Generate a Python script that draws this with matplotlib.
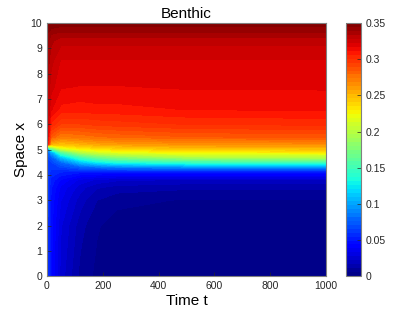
import numpy as np
import matplotlib
matplotlib.use("Agg")
import matplotlib.pyplot as plt

plt.rcParams['font.family'] = ['Liberation Sans', 'DejaVu Sans']

# ---- data ----
times = [0, 15, 50, 120, 180, 250, 500, 1000]
space = [0, 2, 3, 3.5, 3.8, 4.1, 4.3, 4.5, 4.7, 4.9, 5.05, 5.2, 5.5, 6.0, 6.6, 7.5, 8.5, 9.3, 9.6, 10]

# benthic density, one row per space level, one column per time
benthic = [
    [0.065, 0.045, 0.025, 0.009, 0.004, 0.002, 0.001, 0.001],
    [0.065, 0.046, 0.028, 0.013, 0.006, 0.003, 0.002, 0.002],
    [0.065, 0.048, 0.033, 0.019, 0.011, 0.007, 0.005, 0.005],
    [0.065, 0.050, 0.037, 0.024, 0.017, 0.014, 0.012, 0.012],
    [0.065, 0.053, 0.043, 0.031, 0.026, 0.023, 0.021, 0.021],
    [0.065, 0.058, 0.054, 0.050, 0.049, 0.048, 0.048, 0.048],
    [0.065, 0.062, 0.066, 0.075, 0.080, 0.085, 0.090, 0.090],
    [0.065, 0.065, 0.080, 0.110, 0.125, 0.135, 0.145, 0.150],
    [0.065, 0.075, 0.110, 0.150, 0.168, 0.180, 0.195, 0.200],
    [0.068, 0.100, 0.160, 0.200, 0.212, 0.220, 0.228, 0.230],
    [0.080, 0.170, 0.215, 0.230, 0.236, 0.240, 0.248, 0.250],
    [0.325, 0.250, 0.245, 0.250, 0.255, 0.258, 0.262, 0.264],
    [0.328, 0.285, 0.272, 0.275, 0.278, 0.280, 0.284, 0.286],
    [0.330, 0.305, 0.295, 0.295, 0.297, 0.298, 0.301, 0.302],
    [0.332, 0.318, 0.310, 0.309, 0.310, 0.310, 0.312, 0.313],
    [0.335, 0.325, 0.318, 0.317, 0.317, 0.317, 0.318, 0.318],
    [0.338, 0.330, 0.322, 0.322, 0.322, 0.322, 0.322, 0.322],
    [0.342, 0.335, 0.330, 0.330, 0.330, 0.330, 0.330, 0.330],
    [0.346, 0.340, 0.338, 0.338, 0.338, 0.338, 0.338, 0.338],
    [0.350, 0.350, 0.348, 0.348, 0.348, 0.348, 0.348, 0.348],
]

x_ticks = [0, 200, 400, 600, 800, 1000]
y_ticks = [0, 1, 2, 3, 4, 5, 6, 7, 8, 9, 10]
cbar_ticks = [0, 0.05, 0.1, 0.15, 0.2, 0.25, 0.3, 0.35]
cbar_labels = ['0', '0.05', '0.1', '0.15', '0.2', '0.25', '0.3', '0.35']

# ---- figure ----
fig = plt.figure(figsize=(4.15, 3.12), dpi=100)
ax = fig.add_axes([0.113, 0.115, 0.673, 0.811])
cax = fig.add_axes([0.834, 0.115, 0.036, 0.811])

tick_col = '#262626'
edge_col = '#808080'

levels = np.linspace(0, 0.35, 65)
cf = ax.contourf(times, space, np.array(benthic), levels=levels, cmap='jet',
                 vmin=0, vmax=0.35)

ax.set_xlim(0, 1000)
ax.set_ylim(0, 10)
ax.set_xticks(x_ticks)
ax.set_yticks(y_ticks)
ax.tick_params(direction='in', labelsize=7.5, colors=tick_col, length=3, width=0.5)
for s in ax.spines.values():
    s.set_color(edge_col)
    s.set_linewidth(0.8)

ax.set_title('Benthic', fontsize=11, pad=4)
ax.set_xlabel('Time t', fontsize=11, labelpad=2)
ax.set_ylabel('Space x', fontsize=11, labelpad=2)

cb = fig.colorbar(cf, cax=cax, ticks=cbar_ticks)
cb.ax.set_yticklabels(cbar_labels)
cb.ax.tick_params(direction='in', labelsize=7.5, colors=tick_col, length=3, width=0.5)
cb.outline.set_edgecolor(edge_col)
cb.outline.set_linewidth(0.8)

fig.savefig('out.png', dpi=100)
